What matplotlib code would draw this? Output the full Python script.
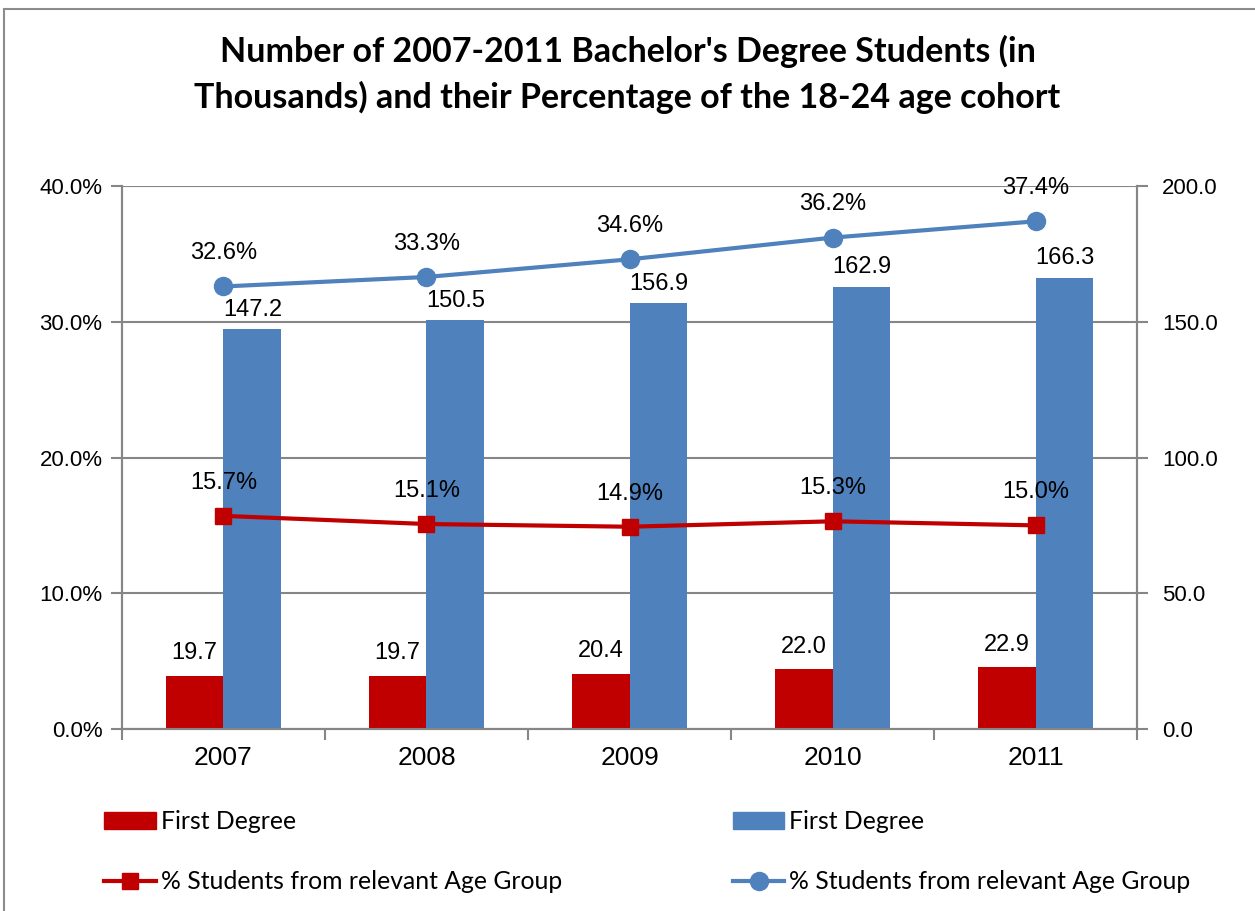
import numpy as np
import matplotlib.pyplot as plt
from matplotlib.lines import Line2D
from matplotlib.patches import Patch, Rectangle

years = ['2007', '2008', '2009', '2010', '2011']
red_bars = [19.7, 19.7, 20.4, 22.0, 22.9]
blue_bars = [147.2, 150.5, 156.9, 162.9, 166.3]
red_pct = [15.7, 15.1, 14.9, 15.3, 15.0]
blue_pct = [32.6, 33.3, 34.6, 36.2, 37.4]

RED = '#C00000'
BLUE = '#4F81BD'
GRID = '#868686'
num_font = 'Liberation Sans'
txt_font = 'Lato'

fig = plt.figure(figsize=(12.55, 9.11), dpi=100)
fig.patches.append(Rectangle((0.003, -0.1), 1.2, 1.09, transform=fig.transFigure,
                             fill=False, edgecolor='#8c8c8c', linewidth=1.5))

ax = fig.add_axes([0.0972, 0.1998, 0.8088, 0.596])
ax2 = ax.twinx()

x = np.arange(len(years))
w = 0.285
ax.bar(x - w / 2, red_bars, w, color=RED, zorder=3)
ax.bar(x + w / 2, blue_bars, w, color=BLUE, zorder=3)
for xi, v in zip(x, red_bars):
    ax.annotate(f'{v:.1f}', (xi - w / 2, v), xytext=(0, 8), textcoords='offset points',
                ha='center', va='bottom', fontsize=17, family=num_font)
for xi, v in zip(x, blue_bars):
    ax.annotate(f'{v:.1f}', (xi + w / 2, v), xytext=(0, 6), textcoords='offset points',
                ha='center', va='bottom', fontsize=17, family=num_font)

ax.set_ylim(0, 200)
ax.set_yticks(np.arange(0, 201, 50))
ax.set_yticklabels([f'{t:.1f}' for t in np.arange(0, 201, 50)])
ax.yaxis.tick_right()
ax.yaxis.set_label_position('right')
ax.set_xlim(-0.5, 4.5)
ax.set_xticks(x)
ax.set_xticklabels(years)
ax.set_xticks(np.arange(-0.5, 5, 1), minor=True)
ax.tick_params(axis='x', which='major', length=0, pad=12, labelsize=19)
ax.tick_params(axis='x', which='minor', length=8, width=1.5, color=GRID, direction='out')
ax.tick_params(axis='y', length=8, width=1.5, color=GRID, pad=10, labelsize=16)
ax.grid(axis='y', color=GRID, linewidth=1.5, zorder=0)
ax.set_axisbelow(True)

ax2.plot(x, red_pct, color=RED, linewidth=3, marker='s', markersize=12, zorder=4)
ax2.plot(x, blue_pct, color=BLUE, linewidth=3, marker='o', markersize=13, zorder=4)
for xi, v in zip(x, red_pct):
    ax2.annotate(f'{v:.1f}%', (xi, v), xytext=(0, 16), textcoords='offset points',
                 ha='center', va='bottom', fontsize=17, family=num_font)
for xi, v in zip(x, blue_pct):
    ax2.annotate(f'{v:.1f}%', (xi, v), xytext=(0, 16), textcoords='offset points',
                 ha='center', va='bottom', fontsize=17, family=num_font)
ax2.set_ylim(0, 40)
ax2.set_yticks(np.arange(0, 41, 10))
ax2.set_yticklabels([f'{t:.1f}%' for t in np.arange(0, 41, 10)])
ax2.yaxis.tick_left()
ax2.tick_params(axis='y', length=8, width=1.5, color=GRID, pad=6, labelsize=16)

for a in (ax, ax2):
    a.spines['top'].set_visible(False)
    for s in ('left', 'right', 'bottom'):
        a.spines[s].set_color(GRID)
        a.spines[s].set_linewidth(1.5)
for lbl in ax.get_xticklabels() + ax.get_yticklabels() + ax2.get_yticklabels():
    lbl.set_family(num_font)

fig.text(0.5, 0.943, "Number of 2007-2011 Bachelor's Degree Students (in", ha='center', va='center',
         fontsize=24.5, fontweight='bold', family=txt_font)
fig.text(0.5, 0.893, "Thousands) and their Percentage of the 18-24 age cohort", ha='center', va='center',
         fontsize=24.5, fontweight='bold', family=txt_font)

leg_kw = dict(frameon=False, prop={'family': txt_font, 'size': 17.8}, handlelength=2.1,
              handletextpad=0.2, labelspacing=1.5, loc='upper left')
h1 = [Patch(color=RED), Line2D([], [], color=RED, linewidth=3, marker='s', markersize=12)]
h2 = [Patch(color=BLUE), Line2D([], [], color=BLUE, linewidth=3, marker='o', markersize=13)]
labels = ['First Degree', '% Students from relevant Age Group']
fig.legend(h1, labels, bbox_to_anchor=(0.065, 0.135), **leg_kw)
fig.legend(h2, labels, bbox_to_anchor=(0.566, 0.135), **leg_kw)

fig.savefig('out.png', dpi=100)
